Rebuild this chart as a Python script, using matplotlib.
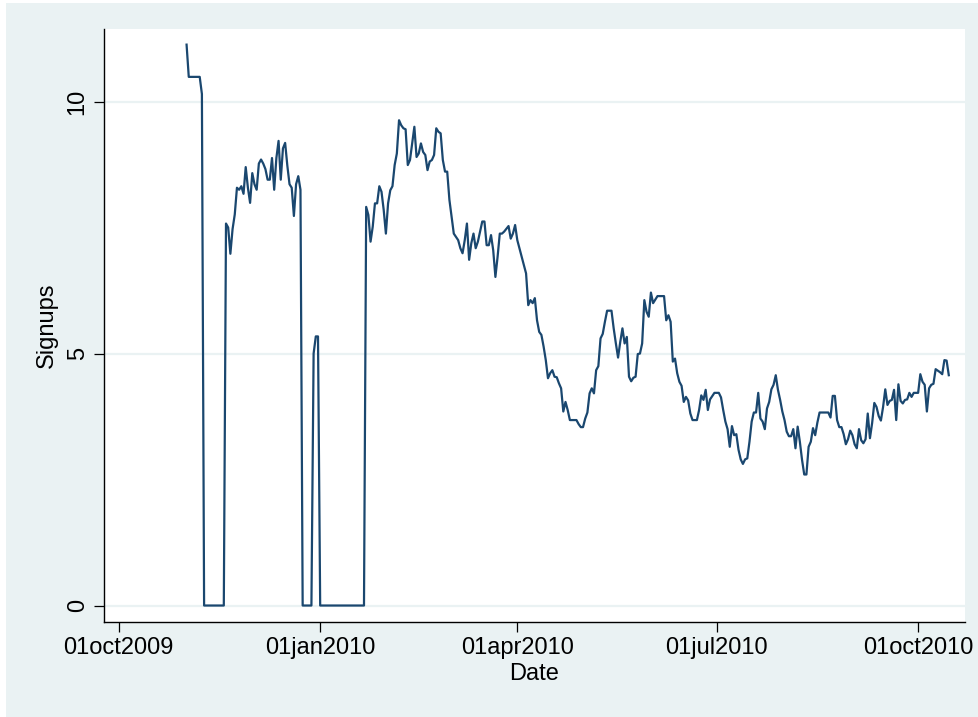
import numpy as np
import pandas as pd
import matplotlib
matplotlib.use("Agg")
import matplotlib.pyplot as plt
from matplotlib.patches import Rectangle

# days since 01oct2009 and the smoothed signups
days = [31, 32, 37, 38, 39, 48, 49, 50, 51, 52, 53, 54, 55, 56, 57, 58, 59, 60,
        61, 62, 63, 64, 65, 66, 67, 68, 69, 70, 71, 72, 73, 74, 75, 76, 77, 78,
        79, 80, 81, 82, 83, 84, 88, 89, 90, 91, 92, 112, 113, 114, 115, 116,
        117, 118, 119, 120, 121, 122, 123, 124, 125, 126, 127, 128, 129, 130,
        131, 132, 133, 134, 135, 136, 137, 138, 139, 140, 141, 142, 143, 144,
        145, 146, 147, 148, 149, 150, 151, 153, 155, 156, 157, 158, 159, 160,
        161, 162, 163, 164, 166, 167, 168, 169, 170, 171, 172, 173, 174, 175,
        176, 178, 179, 180, 181, 182, 184, 186, 187, 188, 189, 190, 191, 192,
        193, 194, 195, 196, 197, 198, 199, 200, 201, 202, 203, 204, 205, 206,
        209, 210, 211, 212, 213, 214, 215, 216, 217, 218, 219, 220, 221, 222,
        223, 225, 226, 227, 228, 229, 230, 231, 232, 233, 234, 235, 236, 237,
        238, 239, 240, 241, 242, 243, 244, 245, 246, 249, 250, 251, 252, 253,
        254, 255, 256, 257, 258, 259, 260, 261, 262, 264, 265, 266, 267, 268,
        269, 270, 272, 274, 275, 276, 277, 278, 279, 280, 281, 282, 283, 284,
        285, 286, 287, 288, 289, 290, 291, 292, 293, 294, 295, 296, 297, 298,
        299, 300, 301, 302, 303, 304, 305, 306, 307, 308, 309, 310, 311, 312,
        313, 314, 315, 316, 317, 318, 319, 320, 324, 325, 326, 327, 328, 329,
        330, 331, 332, 333, 334, 335, 336, 337, 338, 339, 340, 341, 342, 343,
        344, 345, 346, 347, 348, 349, 350, 351, 352, 353, 354, 355, 356, 357,
        358, 359, 360, 361, 362, 363, 365, 366, 367, 368, 369, 370, 371, 372,
        373, 374, 375, 376, 377, 378, 379]

signups = [11.13, 10.49, 10.49, 10.15, 0, 0, 7.58, 7.50, 6.98, 7.47, 7.76, 8.29,
           8.25, 8.32, 8.17, 8.70, 8.29, 7.99, 8.58, 8.36, 8.25, 8.77, 8.85, 8.77,
           8.66, 8.45, 8.45, 8.88, 8.25, 8.88, 9.22, 8.45, 9.07, 9.18, 8.73, 8.36,
           8.29, 7.73, 8.36, 8.52, 8.25, 0, 0, 5.00, 5.34, 5.34, 0, 0, 7.91, 7.75,
           7.22, 7.52, 7.98, 7.98, 8.32, 8.21, 7.85, 7.38, 7.98, 8.24, 8.32, 8.74,
           8.97, 9.63, 9.53, 9.47, 9.45, 8.74, 8.84, 9.17, 9.50, 8.90, 8.97, 9.17,
           9.00, 8.94, 8.64, 8.81, 8.84, 8.94, 9.47, 9.40, 9.37, 8.84, 8.61, 8.61,
           8.05, 7.38, 7.25, 7.09, 6.99, 7.25, 7.58, 6.86, 7.19, 7.38, 7.09, 7.22,
           7.62, 7.62, 7.15, 7.15, 7.35, 7.05, 6.52, 6.92, 7.38, 7.38, 7.42, 7.53,
           7.28, 7.38, 7.55, 7.25, 6.92, 6.59, 5.96, 6.06, 6.00, 6.10, 5.66, 5.43,
           5.37, 5.14, 4.87, 4.51, 4.61, 4.67, 4.54, 4.53, 4.41, 4.31, 3.85, 4.04,
           3.88, 3.68, 3.68, 3.60, 3.54, 3.54, 3.71, 3.83, 4.21, 4.31, 4.21, 4.67,
           4.75, 5.30, 5.39, 5.63, 5.85, 5.85, 5.50, 5.20, 4.92, 5.23, 5.50, 5.20,
           5.33, 4.54, 4.45, 4.52, 4.54, 4.99, 5.00, 5.20, 6.06, 5.83, 5.73, 6.21,
           6.00, 6.07, 6.14, 6.14, 5.66, 5.76, 5.63, 4.84, 4.90, 4.61, 4.44, 4.36,
           4.04, 4.14, 4.07, 3.81, 3.68, 3.68, 3.88, 4.17, 4.08, 4.28, 3.88, 4.09,
           4.22, 4.22, 4.13, 3.88, 3.65, 3.50, 3.15, 3.56, 3.38, 3.40, 3.09, 2.90,
           2.81, 2.90, 2.92, 3.25, 3.65, 3.83, 3.83, 4.22, 3.71, 3.65, 3.50, 3.91,
           4.04, 4.29, 4.38, 4.57, 4.28, 4.08, 3.85, 3.68, 3.45, 3.36, 3.36, 3.50,
           3.12, 3.55, 3.25, 2.89, 2.60, 2.60, 3.15, 3.25, 3.52, 3.38, 3.63, 3.83,
           3.83, 3.73, 4.16, 4.16, 3.68, 3.54, 3.54, 3.40, 3.20, 3.30, 3.47, 3.38,
           3.20, 3.12, 3.50, 3.28, 3.22, 3.30, 3.81, 3.32, 3.62, 4.02, 3.94, 3.76,
           3.67, 3.94, 4.29, 3.98, 4.06, 4.08, 4.28, 3.68, 4.39, 4.06, 4.01, 4.08,
           4.09, 4.22, 4.14, 4.22, 4.22, 4.59, 4.44, 4.38, 3.85, 4.31, 4.38, 4.40,
           4.69, 4.66, 4.63, 4.59, 4.87, 4.86, 4.57]

tick_dates = ["2009-10-01", "2010-01-01", "2010-04-01", "2010-07-01", "2010-10-01"]
tick_labels = ["01oct2009", "01jan2010", "01apr2010", "01jul2010", "01oct2010"]
y_ticks = [0, 5, 10]

start = pd.Timestamp("2009-10-01")
dates = start + pd.to_timedelta(days, unit="D")

plt.rcParams["font.family"] = ["Liberation Sans", "DejaVu Sans"]
bg = "#EAF2F3"
navy = "#1A476F"

fig = plt.figure(figsize=(9.79, 7.17), dpi=100, facecolor="white")
# stata style graph region (thin white edge at top and left)
fig.add_artist(Rectangle((6 / 979, 0), 1, 1 - 3 / 717, transform=fig.transFigure,
                         facecolor=bg, edgecolor="none", zorder=-10))
ax = fig.add_axes([104 / 979, 1 - 622 / 717, (965 - 104) / 979, (622 - 29) / 717])
ax.set_facecolor("white")

for yv in y_ticks:
    ax.axhline(yv, color=bg, lw=1.6, zorder=1)

ax.plot(dates, signups, color=navy, lw=1.6, zorder=3)

ax.set_ylim(-0.327, 11.44)
ax.set_xlim(start - pd.Timedelta(days=6.7), start + pd.Timedelta(days=386.4))
ax.set_yticks(y_ticks)
ax.set_yticklabels([str(v) for v in y_ticks], rotation=90, va="center", fontsize=17)
ax.set_xticks(pd.to_datetime(tick_dates))
ax.set_xticklabels(tick_labels, fontsize=17)
ax.tick_params(axis="both", length=7, width=0.9, direction="out", pad=4)

for s in ["top", "right"]:
    ax.spines[s].set_visible(False)
for s in ["left", "bottom"]:
    ax.spines[s].set_linewidth(1.0)

ax.set_xlabel("Date", fontsize=17, labelpad=3)
ax.set_ylabel("Signups", fontsize=17, labelpad=6)

fig.savefig("out.png", dpi=100, facecolor=fig.get_facecolor())
